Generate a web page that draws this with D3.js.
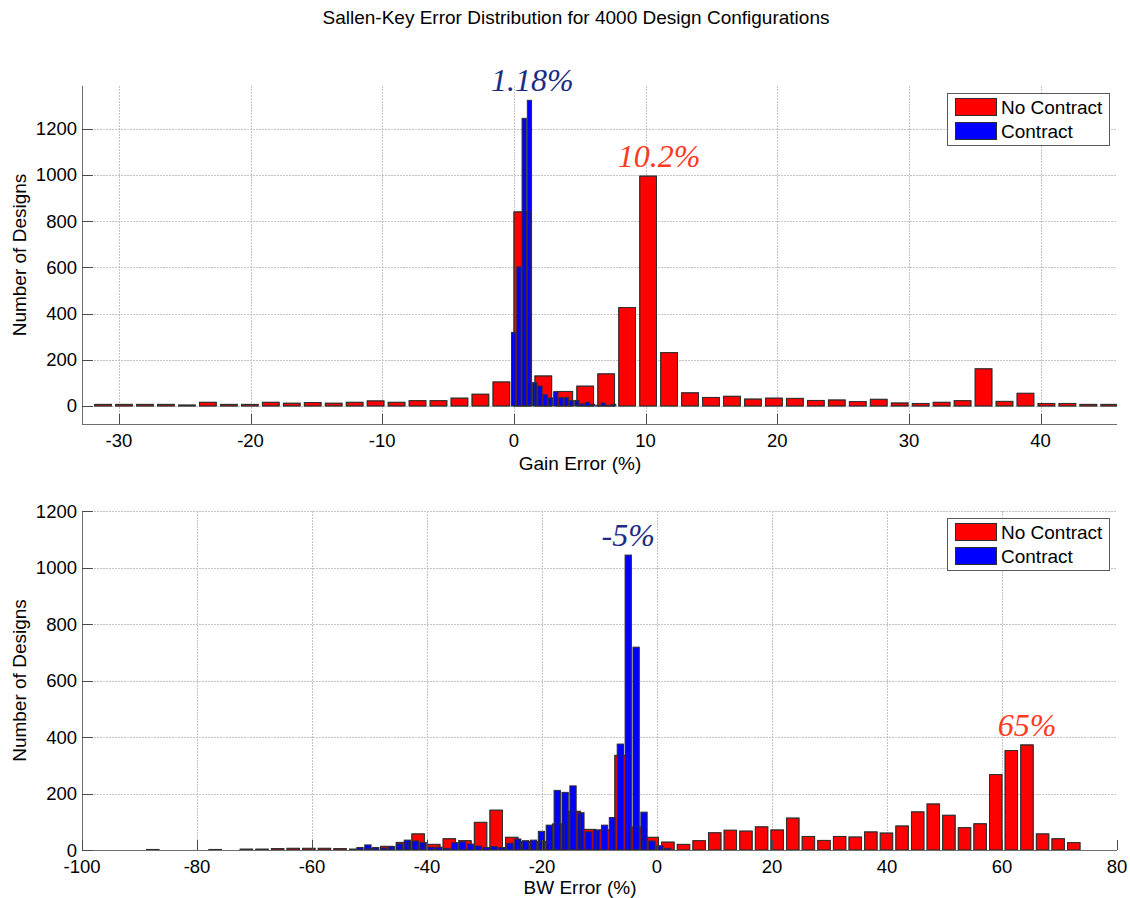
<!DOCTYPE html>
<html>
<head>
<meta charset="utf-8">
<script src="https://cdn.jsdelivr.net/npm/d3@7"></script>
<style>
  body { margin: 0; background: #fff; }
  svg { display: block; font-family: Arial, "Liberation Sans", sans-serif; }
</style>
</head>
<body>
<svg id="fig" width="1130" height="898"></svg>
<script>
// ---- Histogram data (bin centres are evenly spaced from the first centre) ----

// Gain error (%), designs without contract
const gainNoContractFirst = -31.2;
const gainNoContractWidth = 1.592;
const gainNoContract = [7, 7, 7, 7, 4, 16, 7, 7, 16, 12, 15, 12, 16, 22, 16, 23, 23, 34, 51, 104,
  840, 130, 63, 86, 139, 426, 995, 231, 57, 37, 42, 30, 34, 33, 24, 26, 19, 29, 13, 11,
  16, 23, 161, 20, 55, 11, 11, 7, 7];

// Gain error (%), designs with contract
const gainContractFirst = -0.02;
const gainContractWidth = 0.40;
const gainContract = [318, 602, 1245, 1323, 101, 86, 49, 35, 62, 36, 37, 23, 24, 9, 16, 7, 3, 13, 3, 7];

// Bandwidth error (%), designs without contract
const bwNoContractFirst = -87.7;
const bwNoContractWidth = 2.715;
const bwNoContract = [2, 0, 0, 0, 2, 0, 3, 3, 5, 6, 6, 6, 5, 3, 6, 13, 27, 57, 20, 40,
  33, 98, 141, 45, 30, 30, 92, 137, 73, 71, 335, 81, 45, 28, 20, 33, 61, 70, 67, 82,
  71, 113, 48, 34, 48, 46, 64, 60, 85, 135, 163, 123, 79, 93, 267, 352, 372, 57, 40, 26];

// Bandwidth error (%), designs with contract
const bwContractFirst = -51.65;
const bwContractWidth = 1.372;
const bwContract = [9, 18, 9, 7, 12, 22, 35, 32, 27, 10, 10, 6, 26, 29, 21, 14, 9, 12, 9, 24,
  39, 33, 35, 66, 88, 211, 204, 227, 132, 64, 71, 88, 115, 375, 1044, 718, 134, 32, 15, 6];

// Axis ticks
const gainTicks = [-30, -20, -10, 0, 10, 20, 30, 40];
const bwTicks = [-100, -80, -60, -40, -20, 0, 20, 40, 60, 80];
const countTicksTop = [0, 200, 400, 600, 800, 1000, 1200];
const countTicksBottom = [0, 200, 400, 600, 800, 1000, 1200];

const seriesNames = ["No Contract", "Contract"];
const gainPeakLabels = ["10.2%", "1.18%"];
const bwPeakLabels = ["65%", "-5%"];

const titleText = "Sallen-Key Error Distribution for 4000 Design Configurations";

// ---- Drawing ----
const svg = d3.select("#fig");
svg.append("rect").attr("width", 1130).attr("height", 898).attr("fill", "#fff");

const RED = "#ff0000", BLUE = "#0000ff", EDGE = "#2e2e2e";
const AXIS = "#6e6e6e", GRID = "#c4c4c4";

function bins(first, width, counts) {
  return counts.map((c, i) => ({ x: first + i * width, w: width, n: c }));
}

svg.append("text")
  .attr("x", 576).attr("y", 24)
  .attr("text-anchor", "middle")
  .attr("font-size", 19)
  .attr("fill", "#000")
  .text(titleText);

function panel(opt) {
  const { id, left, right, top, bottom, xDomain, yDomain, xTicks, yTicks,
          red, blue, xLabel, xLabelOffset, peakLabels, labelDx } = opt;
  const x = d3.scaleLinear().domain(xDomain).range([left, right]);
  const y = d3.scaleLinear().domain(yDomain).range([bottom, top]);
  const g = svg.append("g");

  g.append("clipPath").attr("id", "clip-" + id)
    .append("rect").attr("x", left).attr("y", top)
    .attr("width", right - left).attr("height", bottom - top);

  // grid
  const grid = g.append("g").attr("stroke", GRID).attr("stroke-width", 1)
    .attr("stroke-dasharray", "1.5,1.5").attr("shape-rendering", "crispEdges");
  grid.selectAll(".gx").data(xTicks.filter(t => x(t) > left + 1 && x(t) < right - 1)).join("line")
    .attr("x1", d => Math.round(x(d)) + 0.5).attr("x2", d => Math.round(x(d)) + 0.5)
    .attr("y1", top).attr("y2", bottom);
  grid.selectAll(".gy").data(yTicks).join("line")
    .attr("x1", left).attr("x2", right)
    .attr("y1", d => Math.round(y(d)) + 0.5).attr("y2", d => Math.round(y(d)) + 0.5);

  const plot = g.append("g").attr("clip-path", `url(#clip-${id})`);
  const barRect = (sel, data) => sel.selectAll("rect").data(data).join("rect")
    .attr("x", d => x(d.x - d.w * 0.4))
    .attr("width", d => x(d.x + d.w * 0.4) - x(d.x - d.w * 0.4))
    .attr("y", d => y(d.n))
    .attr("height", d => y(0) - y(d.n));

  barRect(plot.append("g").attr("fill", RED).attr("stroke", EDGE).attr("stroke-width", 1), red);
  barRect(plot.append("g").attr("fill", BLUE).attr("stroke", EDGE).attr("stroke-width", 1), blue);
  barRect(plot.append("g").attr("fill", "none").attr("stroke", EDGE).attr("stroke-width", 0.8)
    .attr("stroke-opacity", 0.8), red);

  // axes lines
  const ax = g.append("g").attr("shape-rendering", "crispEdges");
  ax.append("line").attr("x1", left + 0.5).attr("x2", left + 0.5).attr("y1", top).attr("y2", bottom)
    .attr("stroke", AXIS);
  ax.append("line").attr("x1", left).attr("x2", right).attr("y1", bottom + 0.5).attr("y2", bottom + 0.5)
    .attr("stroke", AXIS);

  // x ticks and labels
  ax.selectAll(".tx").data(xTicks).join("line")
    .attr("x1", d => Math.round(x(d)) + 0.5).attr("x2", d => Math.round(x(d)) + 0.5)
    .attr("y1", bottom).attr("y2", bottom - 10).attr("stroke", "#4a4a4a");
  g.selectAll(".lx").data(xTicks).join("text")
    .attr("x", d => x(d)).attr("y", bottom + 23)
    .attr("text-anchor", "middle").attr("font-size", 18.5).attr("fill", "#000")
    .text(d => d);

  // y ticks and labels
  ax.selectAll(".ty").data(yTicks).join("line")
    .attr("x1", left).attr("x2", left + 11)
    .attr("y1", d => Math.round(y(d)) + 0.5).attr("y2", d => Math.round(y(d)) + 0.5)
    .attr("stroke", "#4a4a4a");
  g.selectAll(".ly").data(yTicks).join("text")
    .attr("x", left - 5).attr("y", d => y(d) + 6.5)
    .attr("text-anchor", "end").attr("font-size", 18.5).attr("fill", "#000")
    .text(d => d);

  // axis titles
  g.append("text").attr("x", 580).attr("y", bottom + xLabelOffset)
    .attr("text-anchor", "middle").attr("font-size", 19).text(xLabel);
  g.append("text")
    .attr("transform", `translate(26,${(top + bottom) / 2}) rotate(-90)`)
    .attr("text-anchor", "middle").attr("font-size", 19).text("Number of Designs");

  // peak annotations, placed over the tallest bin of each series
  const peaks = [red, blue].map(s => s.reduce((a, b) => (b.n > a.n ? b : a)));
  const peakColors = ["#ff3a1f", "#1c2c84"];
  peaks.forEach((p, i) => {
    g.append("text")
      .attr("x", x(p.x) + labelDx[i]).attr("y", y(p.n) - 9)
      .attr("text-anchor", "middle")
      .attr("font-family", "'Liberation Serif', 'Times New Roman', serif")
      .attr("font-style", "italic").attr("font-size", 32)
      .attr("fill", peakColors[i])
      .text(peakLabels[i]);
  });

  // legend
  const lg = g.append("g").attr("transform", `translate(${right - 170},${top + 7})`);
  lg.append("rect").attr("x", 0.5).attr("y", 0.5).attr("width", 162).attr("height", 52)
    .attr("fill", "#fff").attr("stroke", "#5a5a5a");
  [RED, BLUE].forEach((c, i) => {
    lg.append("rect").attr("x", 8.5).attr("y", 5.5 + i * 24).attr("width", 41).attr("height", 17)
      .attr("fill", c).attr("stroke", EDGE);
    lg.append("text").attr("x", 54).attr("y", 21 + i * 24)
      .attr("font-size", 19).attr("fill", "#000").text(seriesNames[i]);
  });
}

panel({
  id: "gain", left: 82, right: 1117, top: 86, bottom: 424,
  xDomain: [-32.8, 45.8], yDomain: [-78, 1385],
  xTicks: gainTicks, yTicks: countTicksTop,
  red: bins(gainNoContractFirst, gainNoContractWidth, gainNoContract),
  blue: bins(gainContractFirst, gainContractWidth, gainContract),
  xLabel: "Gain Error (%)", xLabelOffset: 46, peakLabels: gainPeakLabels, labelDx: [11, 3]
});

panel({
  id: "bw", left: 82, right: 1117, top: 511, bottom: 850,
  xDomain: [-100, 80], yDomain: [0, 1200],
  xTicks: bwTicks, yTicks: countTicksBottom,
  red: bins(bwNoContractFirst, bwNoContractWidth, bwNoContract),
  blue: bins(bwContractFirst, bwContractWidth, bwContract),
  xLabel: "BW Error (%)", xLabelOffset: 43.5, peakLabels: bwPeakLabels, labelDx: [0, 0]
});
</script>
</body>
</html>
